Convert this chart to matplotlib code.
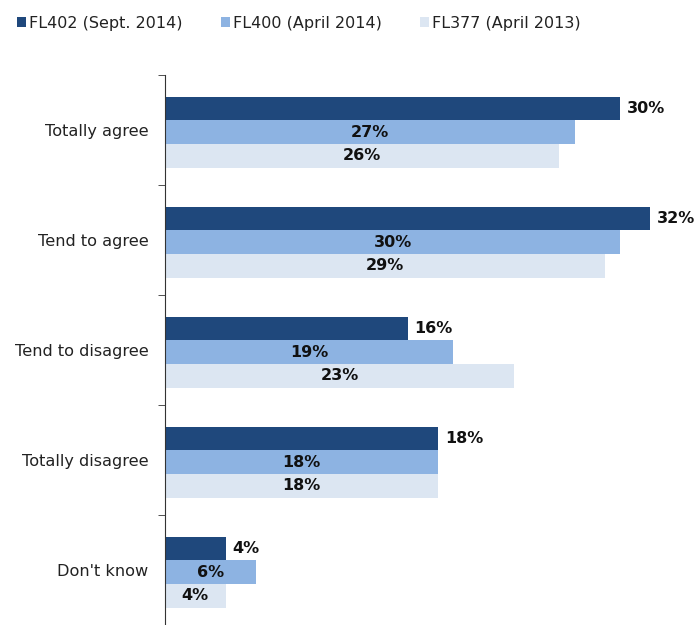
import numpy as np
import matplotlib.pyplot as plt
from matplotlib.patches import Patch

# ========== DATA ========== #
categories = ["Totally agree", "Tend to agree", "Tend to disagree",
              "Totally disagree", "Don't know"]
series_names = ["FL402 (Sept. 2014)", "FL400 (April 2014)", "FL377 (April 2013)"]
fl402 = [30, 32, 16, 18, 4]
fl400 = [27, 30, 19, 18, 6]
fl377 = [26, 29, 23, 18, 4]

colors = ["#1f487c", "#8db3e2", "#dce6f2"]
values = [fl402, fl400, fl377]

# ========== PLOT ========== #
fig = plt.figure(figsize=(6.96, 6.25), dpi=100)
ax = fig.add_axes([165 / 696, 0.0, 1 - 165 / 696, 1 - 75 / 625])

y = np.arange(len(categories))
bar_h = 0.216
offsets = [-bar_h, 0, bar_h]

for vals, off, col in zip(values, offsets, colors):
    ax.barh(y + off + 0.02, vals, height=bar_h, color=col, edgecolor="none")

# value labels: first series outside, others centred in the bar
label_kw = dict(va="center", fontsize=11.5, fontweight="bold", color="#111111")
for i in range(len(categories)):
    ax.text(fl402[i] + 0.45, y[i] + offsets[0] + 0.02, f"{fl402[i]}%",
            ha="left", **label_kw)
    for vals, off in zip(values[1:], offsets[1:]):
        ax.text(vals[i] / 2, y[i] + off + 0.02, f"{vals[i]}%",
                ha="center", **label_kw)

ax.set_xlim(0, 35)
ax.set_ylim(len(categories) - 0.5, -0.5)
ax.set_yticks(y)
ax.set_yticklabels(categories, fontsize=11.6, color="#222222")
ax.tick_params(axis="y", which="major", length=0, pad=12)
ax.set_yticks(np.arange(len(categories) + 1) - 0.5, minor=True)
ax.tick_params(axis="y", which="minor", length=5, color="#333333")
ax.set_xticks([])
for side in ["top", "right", "bottom"]:
    ax.spines[side].set_visible(False)
ax.spines["left"].set_color("#333333")

handles = [Patch(facecolor=c, edgecolor="none") for c in colors]
fig.legend(handles, series_names, ncol=3, loc="upper left",
           bbox_to_anchor=(0.004, 0.998), frameon=False, fontsize=11.5,
           handlelength=0.55, handleheight=0.6, handletextpad=0.2,
           columnspacing=2.4, labelcolor="#222222")

fig.savefig("out.png", dpi=100)
